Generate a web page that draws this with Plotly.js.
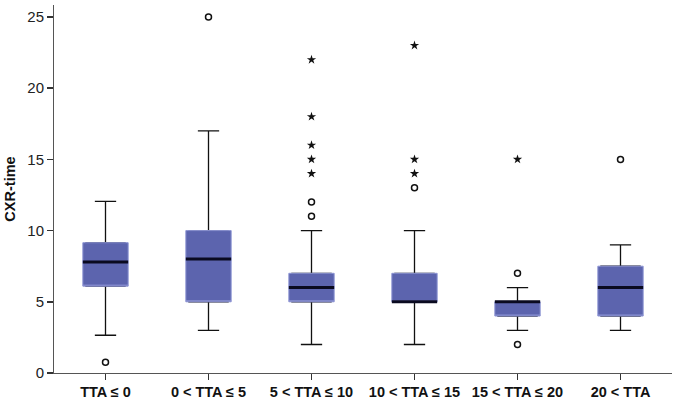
<!DOCTYPE html>
<html>
<head>
<meta charset="utf-8">
<script src="https://cdn.plot.ly/plotly-3.0.1.min.js"></script>
<style>html,body{margin:0;padding:0;background:#fff}#chart{width:682px;height:410px}</style>
</head>
<body>
<div id="chart"></div>
<script>
// Categories and box statistics
const categories = ["TTA \u2264 0", "0 < TTA \u2264 5", "5 < TTA \u2264 10", "10 < TTA \u2264 15", "15 < TTA \u2264 20", "20 < TTA"];
const q1 = [6.1, 5, 5, 5, 4, 4];
const median = [7.8, 8, 6, 5, 5, 6];
const q3 = [9.15, 10, 7, 7, 5, 7.5];
const lowerWhisker = [2.65, 3, 2, 2, 3, 3];
const upperWhisker = [12.05, 17, 10, 10, 6, 9];

// Outliers (circles) and extremes (stars)
const outlierCat = ["TTA \u2264 0", "0 < TTA \u2264 5", "5 < TTA \u2264 10", "5 < TTA \u2264 10", "10 < TTA \u2264 15", "15 < TTA \u2264 20", "15 < TTA \u2264 20", "20 < TTA"];
const outlierVal = [0.75, 25, 11, 12, 13, 7, 2, 15];
const extremeCat = ["5 < TTA \u2264 10", "5 < TTA \u2264 10", "5 < TTA \u2264 10", "5 < TTA \u2264 10", "5 < TTA \u2264 10", "10 < TTA \u2264 15", "10 < TTA \u2264 15", "10 < TTA \u2264 15", "15 < TTA \u2264 20"];
const extremeVal = [14, 15, 16, 18, 22, 14, 15, 23, 15];

const fill = "#5c64ae";
const edge = "#8e95d4";
const boxW = 0.44;
const innerW = 0.38;

const traces = [
  // whiskers (black); its own box is hidden under the body trace
  {type: "box", x: categories, q1: q1, median: q1, q3: q3,
   lowerfence: lowerWhisker, upperfence: upperWhisker,
   width: innerW, whiskerwidth: 0.47 * boxW / innerW, boxpoints: false,
   fillcolor: fill, line: {color: "#111", width: 1.3}, hoverinfo: "skip", showlegend: false},
  // box body (blue with light edge)
  {type: "box", x: categories, q1: q1, median: q1, q3: q3,
   lowerfence: q1, upperfence: q3,
   width: boxW, whiskerwidth: 0, boxpoints: false,
   fillcolor: fill, line: {color: edge, width: 1}, hoverinfo: "skip", showlegend: false},
  // median line (thick black)
  {type: "box", x: categories, q1: median, median: median, q3: median,
   lowerfence: median, upperfence: median,
   width: boxW, whiskerwidth: 0, boxpoints: false,
   fillcolor: "rgba(0,0,0,0)", line: {color: "#0a0a20", width: 3}, hoverinfo: "skip", showlegend: false},
  {type: "scatter", mode: "markers", x: outlierCat, y: outlierVal,
   marker: {symbol: "circle-open", size: 6, color: "#111", line: {width: 1.5, color: "#111"}}, showlegend: false},
  {type: "scatter", mode: "markers", x: extremeCat, y: extremeVal,
   marker: {symbol: "star", size: 7, color: "#111", line: {width: 0}}, showlegend: false}
];

const layout = {
  width: 682, height: 410,
  margin: {l: 54, r: 10, t: 5, b: 37},
  paper_bgcolor: "#fff", plot_bgcolor: "#fff",
  boxmode: "overlay",
  font: {family: "Liberation Sans, Arial, sans-serif", color: "#222"},
  xaxis: {
    type: "category", categoryorder: "array", categoryarray: categories,
    range: [-0.5, 5.5], showgrid: false, zeroline: false,
    showline: true, linecolor: "#555", linewidth: 1,
    ticks: "outside", ticklen: 6, tickcolor: "#333", tickwidth: 1.5,
    tickfont: {size: 14.5, color: "#111", family: "Liberation Sans, Arial, sans-serif", weight: "bold"}
  },
  yaxis: {
    range: [0, 25.84], tickvals: [0, 5, 10, 15, 20, 25],
    showgrid: false, zeroline: false,
    showline: true, linecolor: "#555", linewidth: 1,
    ticks: "outside", ticklen: 6, tickcolor: "#333", tickwidth: 1.5,
    tickfont: {size: 15, color: "#222"},
    title: {text: "CXR-time", standoff: 8, font: {size: 14.5, color: "#111", weight: "bold"}}
  }
};

Plotly.newPlot("chart", traces, layout, {displayModeBar: false, staticPlot: true});
</script>
</body>
</html>
